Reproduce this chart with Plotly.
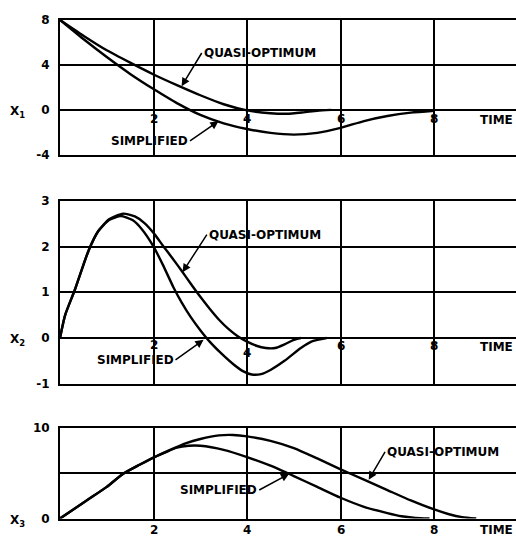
import plotly.graph_objects as go

# ---------------- data ----------------
# Panel 1: x1
t1_quasi = [0, 0.5, 1.0, 1.5, 2.0, 2.5, 3.0, 3.5, 4.0, 4.5, 4.85, 5.2, 5.5, 5.8]
x1_quasi = [8, 6.6, 5.3, 4.2, 3.15, 2.2, 1.3, 0.5, -0.05, -0.3, -0.35, -0.22, -0.08, 0.0]
t1_simp = [0, 0.5, 1.0, 1.5, 2.0, 2.5, 3.0, 3.5, 4.0, 4.5, 5.0, 5.5, 6.0, 6.5, 7.0, 7.5, 8.0]
x1_simp = [8, 6.3, 4.7, 3.2, 1.85, 0.6, -0.45, -1.2, -1.7, -2.05, -2.2, -2.05, -1.6, -1.0, -0.55, -0.25, -0.08]

# Panel 2: x2
t2_quasi = [0, 0.11, 0.32, 0.61, 0.82, 1.05, 1.35, 1.6, 1.8, 2.0, 2.2, 2.4, 2.6, 2.8, 3.0,
            3.2, 3.4, 3.6, 3.8, 4.0, 4.2, 4.4, 4.6, 4.8, 5.0, 5.15]
x2_quasi = [0, 0.5, 1.06, 1.91, 2.34, 2.6, 2.72, 2.66, 2.52, 2.3, 2.02, 1.75, 1.47, 1.18, 0.9,
            0.64, 0.4, 0.2, 0.04, -0.08, -0.17, -0.22, -0.22, -0.14, -0.04, 0.0]
t2_simp = [0, 0.11, 0.32, 0.61, 0.82, 1.05, 1.3, 1.55, 1.75, 2.0, 2.2, 2.43, 2.6, 2.8, 3.0,
           3.2, 3.46, 3.7, 3.9, 4.1, 4.3, 4.5, 4.8, 5.15, 5.4, 5.7]
x2_simp = [0, 0.5, 1.06, 1.91, 2.34, 2.58, 2.67, 2.58, 2.38, 2.0, 1.6, 1.1, 0.78, 0.45, 0.17,
           -0.08, -0.35, -0.57, -0.72, -0.8, -0.79, -0.7, -0.5, -0.22, -0.07, 0.0]

# Panel 3: x3
t3_quasi = [0, 0.6, 1.0, 1.35, 1.7, 2.0, 2.33, 2.7, 3.0, 3.4, 3.7, 4.0, 4.5, 5.0, 5.5, 6.0,
            6.5, 7.0, 7.5, 8.0, 8.3, 8.6, 8.9]
x3_quasi = [0, 2.1, 3.5, 4.95, 5.95, 6.75, 7.55, 8.35, 8.8, 9.2, 9.25, 9.1, 8.6, 7.8, 6.65, 5.45,
            4.3, 3.15, 2.0, 1.0, 0.5, 0.15, 0.0]
t3_simp = [0, 0.6, 1.0, 1.35, 1.7, 2.0, 2.33, 2.5, 2.75, 3.0, 3.5, 4.0, 4.5, 5.0, 5.5, 6.0,
           6.5, 7.0, 7.3, 7.6, 7.9]
x3_simp = [0, 2.1, 3.5, 4.95, 5.95, 6.75, 7.5, 7.85, 8.05, 8.05, 7.6, 6.8, 5.85, 4.7, 3.5, 2.3,
           1.3, 0.6, 0.25, 0.07, 0.0]

x_ticks = [2, 4, 6, 8]
y1_ticks = [-4, 0, 4, 8]
y2_ticks = [-1, 0, 1, 2, 3]
y3_grid = [0, 5, 10]
y3_labels = ["0", "", "10"]

W, H = 516, 545
FONT = dict(family="DejaVu Sans", size=12, color="black", weight="bold")

fig = go.Figure()

def add_curve(ts, vs, sfx):
    fig.add_trace(go.Scatter(
        x=ts, y=vs, mode="lines",
        line=dict(color="black", width=2.4, shape="spline", smoothing=0.6),
        xaxis="x" + sfx, yaxis="y" + sfx, showlegend=False, hoverinfo="skip"))

add_curve(t1_quasi, x1_quasi, "")
add_curve(t1_simp, x1_simp, "")
add_curve(t2_quasi, x2_quasi, "2")
add_curve(t2_simp, x2_simp, "2")
add_curve(t3_quasi, x3_quasi, "3")
add_curve(t3_simp, x3_simp, "3")

x_dom = [60 / W, 1.0]
xrange = [0, 9.75]

def xax(anchor):
    return dict(domain=x_dom, range=xrange, tickvals=x_ticks, showticklabels=False,
                showgrid=True, gridcolor="black", gridwidth=1.5, zeroline=False,
                showline=True, mirror=True, linecolor="black", linewidth=2,
                anchor=anchor, ticks="", fixedrange=True)

def yax(dom, rng, vals, txt, anchor):
    return dict(domain=dom, range=rng, tickvals=vals, ticktext=txt,
                showgrid=True, gridcolor="black", gridwidth=1.5, zeroline=False,
                showline=True, mirror=False, linecolor="black", linewidth=2,
                anchor=anchor, ticks="", ticklabelstandoff=6,
                tickfont=FONT, fixedrange=True)

fig.update_layout(
    width=W, height=H, margin=dict(l=0, r=0, t=0, b=0),
    paper_bgcolor="white", plot_bgcolor="white",
    xaxis=xax("y"), xaxis2=xax("y2"), xaxis3=xax("y3"),
    yaxis=yax([(H - 151.7) / H, (H - 13.3) / H], [-4, 8], y1_ticks, [str(v) for v in y1_ticks], "x"),
    yaxis2=yax([(H - 386.6) / H, (H - 199) / H], [-1, 3], y2_ticks, [str(v) for v in y2_ticks], "x2"),
    yaxis3=yax([20 / H, 112.7 / H], [0, 10], y3_grid, y3_labels, "x3"),
)

ann = []

def text(x, y, s, sfx, yref=None):
    ann.append(dict(x=x, y=y, xref="x" + sfx, yref=yref or ("y" + sfx), text=s, showarrow=False,
                    font=FONT, xanchor="center", yanchor="middle"))

def label_arrow(s, tx, ty, hx, hy, sfx, side):
    # text box edge sits at (tx, ty); arrow goes from there to the curve point (hx, hy)
    ann.append(dict(x=hx, y=hy, ax=tx, ay=ty, xref="x" + sfx, yref="y" + sfx,
                    axref="x" + sfx, ayref="y" + sfx, text=s, font=FONT,
                    xanchor=side, yanchor="middle", showarrow=True,
                    arrowhead=2, arrowsize=1.1, arrowwidth=1.5, arrowcolor="black",
                    standoff=0, startstandoff=0))

# panel 1
label_arrow("QUASI-OPTIMUM", 3.03, 5.06, 2.6, 2.1, "", "left")
label_arrow("SIMPLIFIED", 2.78, -2.77, 3.39, -1.0, "", "right")
for v in x_ticks:
    text(v, -0.85, str(v), "")
text(9.34, -0.9, "TIME", "")

# panel 2
label_arrow("QUASI-OPTIMUM", 3.14, 2.26, 2.62, 1.44, "2", "left")
label_arrow("SIMPLIFIED", 2.47, -0.48, 3.07, -0.04, "2", "right")
for v, yy in zip(x_ticks, [-0.15, -0.33, -0.18, -0.18]):
    text(v, yy, str(v), "2")
text(9.34, -0.2, "TIME", "2")

# panel 3
label_arrow("QUASI-OPTIMUM", 6.95, 7.37, 6.6, 4.3, "3", "left")
label_arrow("SIMPLIFIED", 4.26, 3.16, 4.9, 4.95, "3", "right")
for v in x_ticks:
    text(v, (H - 536.7) / H, str(v), "3", yref="paper")
text(9.34, (H - 537.3) / H, "TIME", "3", yref="paper")

# axis names
for sub, yy in [("1", 108), ("2", 342), ("3", 528)]:
    ann.append(dict(x=17 / W, y=(H - yy) / H, xref="paper", yref="paper",
                    text="X<sub>%s</sub>" % sub,
                    showarrow=False, font=FONT, xanchor="center", yanchor="middle"))

fig.update_layout(annotations=ann)
fig.write_html("out.html")
